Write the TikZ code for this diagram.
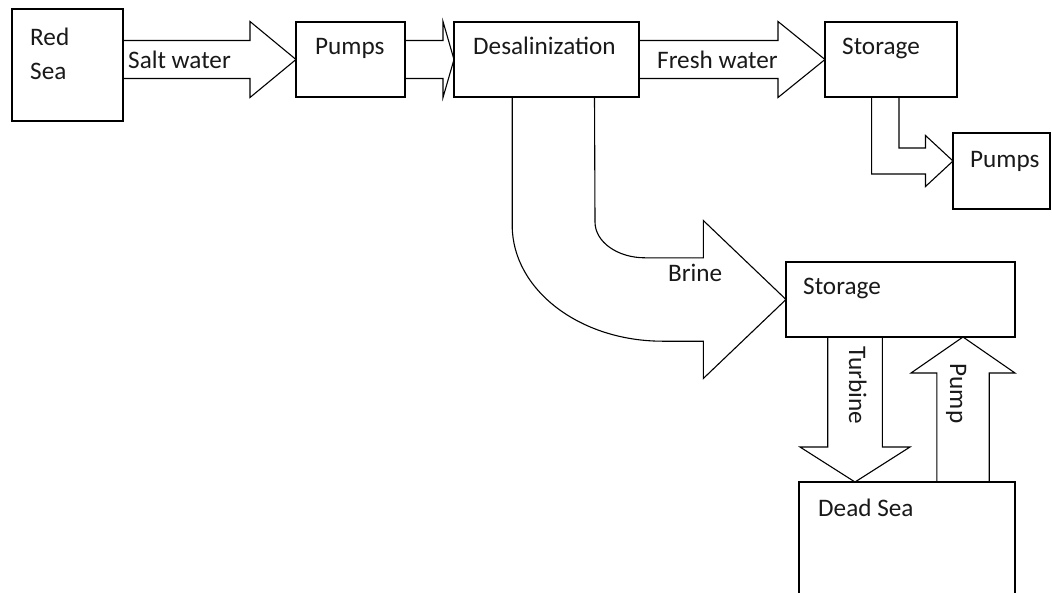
\documentclass[tikz,border=0pt]{standalone}
\usepackage{fontspec}
\setmainfont{Carlito}
\usetikzlibrary{calc}
\newcommand\harrow[5]{\draw[blk] ($(#1)+(0,-#4)$) -- ($(#2)+(#3,-#4)$) -- ($(#2)+(#3,-#5)$) -- (#2) -- ($(#2)+(#3,#5)$) -- ($(#2)+(#3,#4)$) -- ($(#1)+(0,#4)$);}
\newcommand\varrow[5]{\draw[blk] ($(#1)+(-#4,0)$) -- ($(#2)+(-#4,#3)$) -- ($(#2)+(-#5,#3)$) -- (#2) -- ($(#2)+(#5,#3)$) -- ($(#2)+(#4,#3)$) -- ($(#1)+(#4,0)$);}
\tikzset{
  box/.style={draw, line width=1.1pt, inner sep=0pt, outer sep=0pt},
  blk/.style={draw, line width=1.1pt, line join=miter},
  lbl/.style={inner sep=0pt, anchor=base west, font=\fontsize{25.2}{29}\selectfont, text=black!90}
}
\begin{document}
\begin{tikzpicture}[x=1pt,y=-1pt]
\useasboundingbox (0,0) rectangle (1052,592);
\clip (0,0) rectangle (1052,592);
\fill[white] (0,0) rectangle (1052,592);
% boxes
\node[box, minimum width=111pt, minimum height=112pt] (red) at (67.5,65) {};
\node[box, minimum width=109pt, minimum height=75pt] (pumpsA) at (350.5,59.5) {};
\node[box, minimum width=185pt, minimum height=75pt] (desal) at (546.5,59.5) {};
\node[box, minimum width=132pt, minimum height=75pt] (storeA) at (891,59.5) {};
\node[box, minimum width=97pt, minimum height=76pt] (pumpsB) at (1001.5,171) {};
\node[box, minimum width=229pt, minimum height=75pt] (storeB) at (900.5,299.5) {};
\node[box, minimum width=216pt, minimum height=140pt] (dead) at (907,552) {};
% texts
\node[lbl] (tRed) at (30,45) {Red};
\node[lbl] (tSea) at (30,79) {Sea};
\node[lbl] (tSalt) at (128,68) {Salt water};
\node[lbl] (tPumpsA) at (315,54.5) {Pumps};
\node[lbl] (tDesal) at (473,54) {Desalinization};
\node[lbl] (tFresh) at (657,68) {Fresh water};
\node[lbl] (tStoreA) at (842,54) {Storage};
\node[lbl] (tPumpsB) at (970,167) {Pumps};
\node[lbl] (tBrine) at (668,281.5) {Brine};
\node[lbl] (tStoreB) at (803,294.5) {Storage};
\node[lbl] (tDead) at (818,516.5) {Dead Sea};
\node[lbl, rotate=-90] (tTurb) at (849,346.5) {Turbine};
\node[lbl, rotate=-90] (tPump) at (950,363.5) {Pump};
% straight block arrows
\harrow{red.east |- pumpsA.west}{pumpsA.west}{-46}{19}{38}
\harrow{pumpsA.east}{desal.west}{-11}{19}{38}
\harrow{desal.east}{storeA.west}{-47}{19}{38}
% storage -> pumps bent arrow
\coordinate (o1) at ($(storeA.south west)+(46.6,0)$);
\coordinate (i1) at ($(storeA.south west)+(74,0)$);
\coordinate (tipB) at ($(pumpsB.west)+(0,-10)$);
\draw[blk] (o1) -- (o1 |- {$(tipB)+(0,13)$}) -- ($(tipB)+(-27.5,13)$) -- ($(tipB)+(-27.5,25.5)$) -- (tipB)
  -- ($(tipB)+(-27.5,-25.5)$) -- ($(tipB)+(-27.5,-13)$) -- (i1 |- {$(tipB)+(0,-13)$}) -- (i1);
% brine curved arrow
\coordinate (bo) at ($(desal.south west)+(58.2,0)$);
\coordinate (bi) at ($(desal.south west)+(140.5,0)$);
\draw[blk] (bo) -- (bo |- 0,226) .. controls (512.7,290) and (579.9,341.2) .. (662.7,341.2)
  -- (703.3,341.2) -- (703.3,378.5) -- (storeB.west) -- (703.3,220.5) -- (703.3,257.8)
  -- (645,257.8) .. controls (617.4,257.8) and (595,241.9) .. (595,222) -- (bi);
% turbine (down) and pump (up)
\coordinate (ts) at ($(storeB.south west)+(69,0)$);
\coordinate (tt) at (ts |- dead.north);
\varrow{ts}{tt}{-35}{27.3}{55}
\coordinate (ps) at ($(dead.north west)+(164,0)$);
\coordinate (pt) at (ps |- storeB.south);
\varrow{ps}{pt}{36}{26.2}{52}
\end{tikzpicture}
\end{document}
